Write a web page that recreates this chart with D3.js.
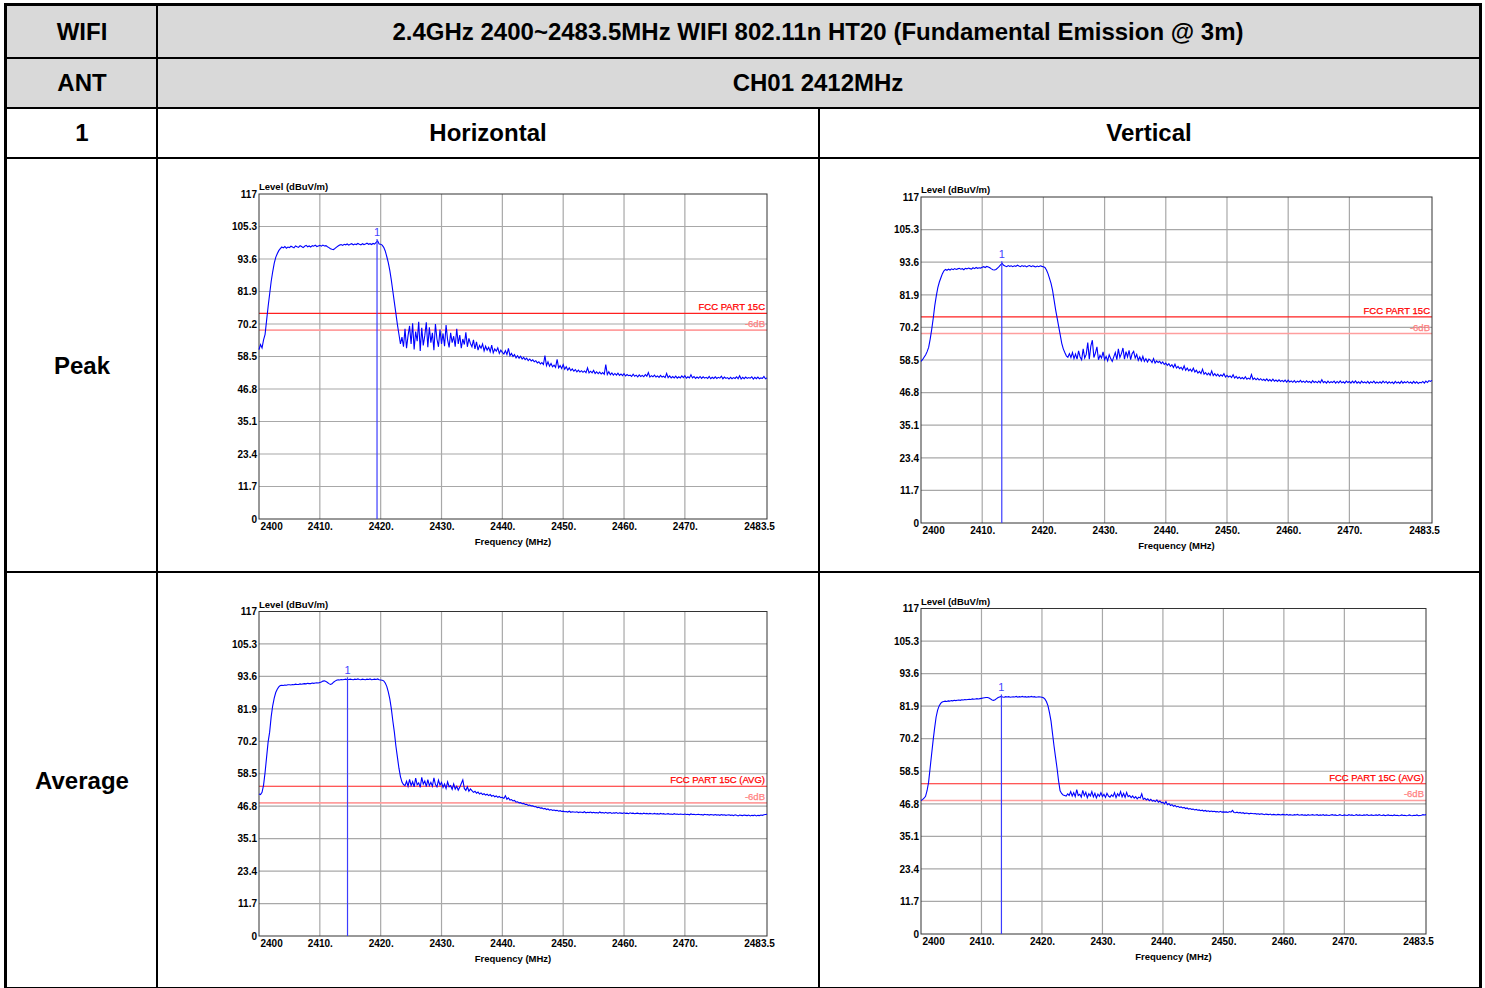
<!DOCTYPE html>
<html><head><meta charset="utf-8">
<script src="https://cdn.jsdelivr.net/npm/d3@7"></script>
<style>body{margin:0;background:#fff;} svg{display:block;}</style>
</head><body>
<svg id="c" width="1485" height="988"></svg>
<script>
// ---------- data ----------
const titleText = "2.4GHz 2400~2483.5MHz WIFI 802.11n HT20 (Fundamental Emission @ 3m)";
const channelText = "CH01 2412MHz";
const polarizations = ["Horizontal", "Vertical"];
const detectors = ["Peak", "Average"];
const sweepStartMHz = 2400, sweepStepMHz = 0.25;
const xTickValues = [2400, 2410, 2420, 2430, 2440, 2450, 2460, 2470, 2483.5];
const xTickLabels = ["2400", "2410.", "2420.", "2430.", "2440.", "2450.", "2460.", "2470.", "2483.5"];
const yTickValues = [0, 11.7, 23.4, 35.1, 46.8, 58.5, 70.2, 81.9, 93.6, 105.3, 117];
const yTickLabels = ["0", "11.7", "23.4", "35.1", "46.8", "58.5", "70.2", "81.9", "93.6", "105.3", "117"];
const peakLimit = 74, avgLimit = 54, marginDb = 6;
const limitLabels = ["FCC PART 15C", "FCC PART 15C (AVG)"];
const markerFreqs = [2419.4, 2413.2, 2414.55, 2413.3];
const markerLevels = [100.1, 93.2, 92.6, 85.4];

// levels in dBuV/m, one value every 0.25 MHz from 2400 to 2483.5 MHz
const hPeak = [
61.0,62.8,61.6,64.5,66.5,71.5,76.5,81.0,85.5,89.0,92.0,94.2,95.5,96.6,97.3,97.9,97.6,98.1,97.5,97.9,
97.7,98.2,97.9,97.6,98.3,98.0,97.8,98.4,98.1,97.7,98.2,98.5,98.0,98.3,97.9,98.4,98.2,98.6,98.1,98.3,
98.5,98.2,98.6,98.3,98.4,98.0,97.7,97.3,97.1,97.0,97.4,97.9,98.3,98.6,98.8,98.5,98.9,98.7,99.0,98.6,
98.9,99.1,98.7,99.0,98.8,99.2,98.9,98.7,99.1,98.8,99.0,99.3,98.9,99.1,98.8,99.2,99.0,99.6,100.1,99.0,
98.9,98.6,97.8,96.5,94.5,92.3,89.5,86.0,82.0,78.0,74.0,70.0,66.5,63.0,65.5,62.0,68.5,61.5,66.0,69.5,
63.0,70.5,61.0,67.5,64.0,71.0,60.5,68.8,62.5,66.0,70.8,61.8,69.0,63.5,67.0,60.8,70.2,64.8,62.0,68.2,
63.0,66.8,62.2,69.8,64.5,61.8,67.0,63.5,65.8,62.0,68.5,63.0,66.2,61.5,64.8,62.8,67.2,62.0,65.0,63.2,
62.0,64.5,61.2,63.8,60.8,62.5,61.5,63.0,60.5,62.2,60.8,61.8,60.2,62.6,59.8,61.2,60.4,61.6,59.6,60.8,
60.0,59.4,60.6,59.2,61.4,58.8,59.6,58.5,59.2,58.0,58.8,57.9,58.6,57.6,58.2,57.4,57.9,57.0,57.6,56.9,
57.3,56.6,57.0,56.2,56.6,55.8,56.3,55.6,58.8,55.2,56.6,55.0,56.0,54.8,55.4,54.6,57.5,54.4,55.2,54.2,
55.6,53.9,54.8,53.6,54.4,53.4,54.0,53.2,53.8,53.0,53.6,52.9,53.4,52.8,53.3,52.7,54.4,52.6,53.2,52.6,
53.5,52.4,53.0,52.3,52.9,52.2,52.7,52.1,55.6,52.0,53.0,51.9,52.6,51.8,52.4,51.8,52.5,51.7,52.2,51.6,
52.3,51.5,52.0,51.6,51.8,51.3,52.1,51.4,51.8,51.2,51.9,51.3,51.7,51.2,52.0,51.4,52.7,51.1,51.6,51.2,
51.8,51.1,51.5,51.0,51.7,51.1,51.4,50.9,52.4,50.9,51.5,50.8,51.3,50.8,51.4,50.7,51.2,50.8,51.5,50.9,
51.6,50.7,51.2,50.8,51.9,50.8,51.3,50.6,51.1,50.7,51.3,50.6,51.2,50.7,51.0,50.6,51.3,50.5,51.0,50.6,
51.2,50.6,51.0,50.7,51.4,50.5,51.1,50.6,50.9,50.4,51.0,50.5,50.9,50.6,51.2,50.5,51.6,50.4,51.0,50.5,
51.1,50.6,50.9,50.7,51.2,50.4,51.0,50.5,51.1,50.5,50.8,50.6,51.3,50.5,50.8];

const vPeak = [
58.0,58.6,59.5,60.3,61.5,63.0,66.0,69.5,73.5,78.0,81.5,84.5,86.5,88.0,89.5,90.5,91.0,90.7,91.1,90.8,
91.2,90.9,91.3,91.0,91.2,91.4,91.1,91.3,90.9,91.4,91.2,91.5,91.3,91.1,91.6,91.3,91.7,91.4,91.6,91.5,
91.8,92.0,91.7,92.1,91.9,91.6,91.2,90.9,90.8,91.0,91.5,92.0,92.6,93.2,92.5,92.2,92.0,92.4,92.1,92.3,
92.0,92.3,92.1,92.5,92.2,92.0,92.4,92.1,92.3,91.9,92.2,92.4,92.0,92.3,92.1,91.9,92.2,92.0,92.3,92.1,
92.0,91.7,90.8,89.5,87.8,86.0,83.5,80.0,76.5,73.5,70.5,67.5,64.5,62.5,61.2,60.0,59.5,60.8,59.4,61.2,
59.0,60.6,58.8,61.8,59.6,58.6,62.5,59.2,60.5,64.8,58.8,63.5,65.6,59.4,61.0,63.2,58.6,60.2,59.2,61.4,
58.6,59.8,58.2,60.4,59.0,58.0,59.6,61.2,58.6,62.5,59.4,60.8,62.8,58.8,61.5,59.6,62.0,58.6,60.8,61.6,
59.2,60.5,58.4,59.6,58.2,59.8,58.0,59.0,57.8,58.8,58.4,57.6,59.0,57.4,58.2,57.6,58.0,57.2,57.8,56.9,
57.4,56.6,57.2,56.2,56.8,55.8,57.0,55.6,56.2,55.4,55.9,55.0,56.4,54.8,55.6,54.6,55.2,54.4,55.6,54.2,
54.8,53.8,54.4,53.6,55.2,53.4,54.0,53.2,53.8,53.0,54.6,52.9,53.6,52.8,53.4,52.6,53.2,52.7,53.6,52.4,
53.0,52.4,52.8,52.2,53.2,52.0,52.6,51.9,52.4,51.8,52.2,51.7,52.5,51.6,52.0,51.6,53.3,51.5,52.0,51.4,
51.9,51.3,51.8,51.2,51.6,51.1,51.7,51.0,51.5,50.9,51.6,50.9,51.3,50.8,51.4,50.8,51.2,50.7,51.3,50.6,
51.3,50.6,51.0,50.5,51.1,50.4,50.9,50.6,51.2,50.5,50.9,50.4,51.0,50.5,50.8,50.3,51.1,50.4,50.8,50.3,
50.9,50.3,51.4,50.4,50.8,50.2,50.9,50.3,50.7,50.4,50.9,50.2,50.8,50.3,51.0,50.3,50.7,50.2,50.9,50.4,
50.8,50.2,50.9,50.3,51.0,50.2,50.7,50.1,50.9,50.3,50.6,50.2,50.8,50.1,50.7,50.3,50.9,50.2,50.6,50.2,
50.7,50.2,50.9,50.3,50.8,50.1,50.7,50.2,50.6,50.0,50.8,50.2,50.6,50.1,50.9,50.2,50.7,50.3,50.8,50.2,
50.6,50.1,50.8,50.2,50.7,50.1,50.5,50.3,50.8,50.2,50.9,50.4,51.1,50.8,51.2];

const hAvg = [
51.2,51.0,51.8,54.4,59.0,64.5,70.0,73.5,79.0,83.0,85.8,87.8,89.0,89.8,90.3,90.4,90.3,90.5,90.4,90.6,
90.6,90.5,90.7,90.6,90.8,90.7,90.7,90.9,90.8,90.9,91.0,90.9,91.1,91.0,91.0,91.2,91.1,91.2,91.3,91.2,
91.4,91.6,91.9,92.0,91.8,91.4,91.0,90.7,90.9,91.5,91.9,92.2,92.4,92.3,92.5,92.4,92.5,92.6,92.4,92.5,
92.6,92.5,92.4,92.6,92.5,92.7,92.5,92.4,92.6,92.5,92.4,92.6,92.5,92.7,92.4,92.5,92.6,92.5,92.7,92.4,
92.3,92.2,92.0,91.2,90.0,88.0,85.5,82.0,77.5,73.5,68.5,64.5,60.5,57.5,55.5,54.6,54.2,55.8,54.0,56.5,
54.2,55.6,53.8,56.9,54.5,55.2,53.6,57.2,54.8,55.9,53.9,56.4,54.2,55.4,54.0,57.0,54.6,53.8,56.2,54.4,
55.4,53.6,54.8,53.2,55.6,53.8,54.2,52.9,54.8,53.0,54.0,52.6,53.6,55.0,56.3,53.2,52.5,53.8,52.2,53.0,
52.4,51.8,52.2,51.5,51.9,51.2,51.6,51.0,51.3,50.8,51.1,50.6,51.0,50.4,50.7,50.2,50.5,50.0,50.3,49.9,
50.0,49.6,50.6,49.3,49.8,49.0,49.2,48.7,48.9,48.3,48.4,48.0,48.1,47.7,47.8,47.4,47.5,47.1,47.2,46.9,
46.9,46.6,46.7,46.3,46.4,46.1,46.2,45.8,46.0,45.6,45.8,45.4,45.6,45.3,45.4,45.2,45.3,45.0,45.2,44.9,
45.0,44.8,44.9,44.7,45.0,44.6,44.8,44.7,44.6,44.8,44.5,44.7,44.6,44.5,44.8,44.4,44.6,44.5,44.7,44.4,
44.6,44.4,44.5,44.3,44.7,44.4,44.5,44.3,44.6,44.3,44.4,44.5,44.2,44.4,44.3,44.5,44.2,44.4,44.3,44.2,
44.4,44.2,44.3,44.1,44.4,44.2,44.3,44.1,44.2,44.3,44.1,44.2,44.0,44.3,44.1,44.2,44.0,44.2,44.1,44.0,
44.2,44.0,44.1,43.9,44.2,44.0,44.1,43.9,44.0,44.1,43.9,44.0,43.8,44.1,43.9,44.0,43.8,44.0,43.9,43.8,
44.0,43.8,43.9,43.7,44.0,43.8,43.9,43.7,43.8,43.9,43.7,43.8,43.6,43.9,43.7,43.8,43.6,43.8,43.7,43.6,
43.8,43.6,43.7,43.5,43.8,43.6,43.7,43.5,43.6,43.7,43.5,43.6,43.4,43.7,43.5,43.3,43.6,43.5,43.4,43.6,
43.5,43.4,43.6,43.3,43.5,43.4,43.6,43.3,43.5,43.4,43.6,43.5,43.7,43.8,43.9];

const vAvg = [
48.0,48.3,48.8,49.5,51.5,54.5,59.5,64.5,69.5,74.0,78.0,80.5,82.0,82.9,83.4,83.6,83.7,83.6,83.8,83.7,
83.9,83.8,84.0,83.9,84.0,84.1,84.0,84.2,84.1,84.3,84.2,84.3,84.4,84.3,84.5,84.4,84.5,84.6,84.5,84.6,
84.7,84.8,84.9,85.0,85.0,84.8,84.5,84.1,84.0,84.2,84.6,85.0,85.2,85.4,85.2,85.1,85.3,85.2,85.3,85.1,
85.2,85.3,85.2,85.4,85.1,85.3,85.2,85.4,85.2,85.3,85.1,85.3,85.2,85.4,85.2,85.3,85.1,85.2,85.3,85.2,
85.1,84.9,84.4,83.5,82.0,79.5,76.5,72.0,67.5,63.5,59.5,55.0,51.5,50.5,50.0,49.8,49.6,50.4,49.8,51.2,
49.6,50.8,49.4,51.9,49.8,50.2,49.2,51.6,49.7,50.9,49.0,50.4,49.6,51.2,49.3,50.6,48.9,50.3,49.5,50.8,
49.4,50.2,49.1,50.6,49.6,49.2,50.0,49.4,50.8,49.0,50.4,49.6,51.2,49.3,50.5,49.1,50.9,49.4,49.8,49.0,
49.6,48.8,49.4,48.6,49.2,48.9,50.4,48.4,48.8,48.2,48.6,47.9,48.4,47.8,48.0,47.6,48.2,47.4,47.8,47.2,
47.3,46.8,47.6,46.5,46.9,46.2,46.5,45.9,46.2,45.7,45.9,45.5,45.7,45.3,45.5,45.1,45.3,44.9,45.1,44.8,
44.9,44.6,44.8,44.5,44.6,44.3,44.5,44.2,44.4,44.1,44.3,44.0,44.2,44.0,44.1,43.9,44.0,43.8,44.1,43.8,
43.9,43.8,43.9,43.7,44.0,43.8,44.4,43.7,43.6,43.8,43.5,43.7,43.4,43.6,43.3,43.5,43.4,43.2,43.4,43.3,
43.2,43.3,43.1,43.2,43.0,43.2,43.1,42.9,43.1,43.0,42.9,43.1,42.8,43.0,42.9,42.8,43.0,42.9,42.8,43.0,
42.9,42.8,43.0,42.7,42.9,42.8,42.7,42.9,42.8,43.0,42.7,42.8,42.9,42.7,42.8,42.6,42.9,42.7,42.8,42.9,
42.7,42.8,42.9,42.6,42.8,42.7,42.9,42.6,42.8,42.7,42.6,42.8,42.9,42.7,42.8,42.6,42.7,42.9,42.7,42.6,
42.8,42.7,42.6,42.9,42.7,42.8,42.6,42.7,42.9,42.6,42.8,42.7,42.6,42.8,42.7,42.9,42.6,42.7,42.8,42.6,
42.7,42.8,42.6,42.9,42.7,42.6,42.8,42.5,42.7,42.8,42.6,42.7,42.5,42.8,42.6,42.7,42.5,42.6,42.8,42.6,
42.7,42.5,42.6,42.8,42.6,42.5,42.7,42.6,42.8,42.5,42.6,42.7,42.9,42.8,42.9];

// ---------- table ----------
const svg = d3.select("#c");
const FONT = "'Liberation Sans', Arial, sans-serif";
const colX = [7, 157, 819, 1479];
const rowY = [6, 58, 108, 158, 572, 987];

svg.append("rect").attr("x", colX[0]).attr("y", rowY[0]).attr("width", colX[3]-colX[0]).attr("height", rowY[2]-rowY[0]).attr("fill", "#d9d9d9");

const cellText = (x, y, t) => svg.append("text").attr("x", x).attr("y", y).attr("text-anchor", "middle")
  .attr("dominant-baseline", "central").attr("font-family", FONT).attr("font-weight", "bold")
  .attr("font-size", 24).attr("fill", "#000").text(t);
const mid = (a, b) => (a + b) / 2;
cellText(mid(colX[0], colX[1]), mid(rowY[0], rowY[1]) - 0.5, "WIFI");
cellText(mid(colX[1], colX[3]), mid(rowY[0], rowY[1]) - 0.5, titleText);
cellText(mid(colX[0], colX[1]), mid(rowY[1], rowY[2]) - 1, "ANT");
cellText(mid(colX[1], colX[3]), mid(rowY[1], rowY[2]) - 1, channelText);
cellText(mid(colX[0], colX[1]), mid(rowY[2], rowY[3]) - 1, "1");
cellText(mid(colX[1], colX[2]), mid(rowY[2], rowY[3]) - 1, polarizations[0]);
cellText(mid(colX[2], colX[3]), mid(rowY[2], rowY[3]) - 1, polarizations[1]);
cellText(mid(colX[0], colX[1]), mid(rowY[3], rowY[4]) + 0.5, detectors[0]);
cellText(mid(colX[0], colX[1]), mid(rowY[4], rowY[5]) + 0.5, detectors[1]);

// ---------- charts ----------
const charts = [
  {data: hPeak, l: 259, r: 767, t: 194, b: 519, limit: peakLimit, label: limitLabels[0], m: 0},
  {data: vPeak, l: 921, r: 1432, t: 197, b: 523, limit: peakLimit, label: limitLabels[0], m: 1},
  {data: hAvg, l: 259, r: 767, t: 611.5, b: 936, limit: avgLimit, label: limitLabels[1], m: 2},
  {data: vAvg, l: 921, r: 1426, t: 608.5, b: 934, limit: avgLimit, label: limitLabels[1], m: 3}
];

const CF = "'Liberation Sans', Arial, sans-serif";
charts.forEach(c => {
  const g = svg.append("g");
  const x = d3.scaleLinear().domain([xTickValues[0], xTickValues[xTickValues.length-1]]).range([c.l, c.r]);
  const y = d3.scaleLinear().domain([0, 117]).range([c.b, c.t]);
  // grid
  g.append("g").selectAll("line").data(xTickValues.slice(1, -1)).join("line")
    .attr("x1", d => x(d)).attr("x2", d => x(d)).attr("y1", c.t).attr("y2", c.b)
    .attr("stroke", "#a8a8a8").attr("stroke-width", 1.2);
  g.append("g").selectAll("line").data(yTickValues.slice(1, -1)).join("line")
    .attr("x1", c.l).attr("x2", c.r).attr("y1", d => y(d)).attr("y2", d => y(d))
    .attr("stroke", "#a8a8a8").attr("stroke-width", 1.2);
  // limit lines
  g.append("line").attr("x1", c.l).attr("x2", c.r).attr("y1", y(c.limit)).attr("y2", y(c.limit))
    .attr("stroke", "#ff2020").attr("stroke-width", 1.2);
  g.append("line").attr("x1", c.l).attr("x2", c.r).attr("y1", y(c.limit - marginDb)).attr("y2", y(c.limit - marginDb))
    .attr("stroke", "#ff9e9e").attr("stroke-width", 1.6);
  g.append("text").attr("x", c.r - 2).attr("y", y(c.limit) - 3).attr("text-anchor", "end")
    .attr("font-family", CF).attr("font-size", 9.5).attr("fill", "#ff0000")
    .attr("stroke", "#ff0000").attr("stroke-width", 0.25).text(c.label);
  g.append("text").attr("x", c.r - 2).attr("y", y(c.limit - marginDb) - 3).attr("text-anchor", "end")
    .attr("font-family", CF).attr("font-size", 9.5).attr("fill", "#ff7f7f")
    .attr("stroke", "#ff7f7f").attr("stroke-width", 0.25).text("-" + marginDb + "dB");
  // border
  g.append("rect").attr("x", c.l).attr("y", c.t).attr("width", c.r - c.l).attr("height", c.b - c.t)
    .attr("fill", "none").attr("stroke", "#333").attr("stroke-width", 1);
  // axes
  const ya = d3.axisLeft(y).tickValues(yTickValues).tickSize(0).tickPadding(2)
    .tickFormat((d, i) => yTickLabels[i]);
  const yg = g.append("g").attr("transform", `translate(${c.l},0)`).call(ya);
  yg.select(".domain").remove();
  yg.selectAll("text").attr("font-family", CF).attr("font-weight", "bold").attr("font-size", 10).attr("fill", "#000");
  const xa = d3.axisBottom(x).tickValues(xTickValues).tickSize(0).tickPadding(4)
    .tickFormat((d, i) => xTickLabels[i]);
  const xg = g.append("g").attr("transform", `translate(0,${c.b})`).call(xa);
  xg.select(".domain").remove();
  xg.selectAll("text").attr("font-family", CF).attr("font-weight", "bold").attr("font-size", 10).attr("fill", "#000")
    .attr("text-anchor", (d, i) => i === 0 ? "start" : "middle")
    .attr("dx", (d, i) => i === 0 ? 1 : (i === xTickValues.length - 1 ? -8 : 0));
  g.append("text").attr("x", c.l).attr("y", c.t - 4).attr("font-family", CF).attr("font-weight", "bold")
    .attr("font-size", 9.5).attr("fill", "#000").text("Level (dBuV/m)");
  g.append("text").attr("x", (c.l + c.r) / 2).attr("y", c.b + 26).attr("text-anchor", "middle")
    .attr("font-family", CF).attr("font-weight", "bold").attr("font-size", 9.5).attr("fill", "#000").text("Frequency (MHz)");
  // trace
  const line = d3.line().x((d, i) => x(sweepStartMHz + i * sweepStepMHz)).y(d => y(d));
  g.append("path").datum(c.data).attr("d", line).attr("fill", "none").attr("stroke", "#0000ff").attr("stroke-width", 1.1);
  // marker
  const mf = markerFreqs[c.m], ml = markerLevels[c.m];
  g.append("line").attr("x1", x(mf)).attr("x2", x(mf)).attr("y1", y(ml) - 2).attr("y2", c.b)
    .attr("stroke", "#3c3cff").attr("stroke-width", 1.2);
  g.append("text").attr("x", x(mf)).attr("y", y(ml) - 5).attr("text-anchor", "middle")
    .attr("font-family", CF).attr("font-size", 11).attr("fill", "#4444ff").text("1");
});

// ---------- table lines ----------
const L = (x1, y1, x2, y2, w) => svg.append("line").attr("x1", x1).attr("y1", y1).attr("x2", x2).attr("y2", y2)
  .attr("stroke", "#000").attr("stroke-width", w);
[rowY[1], rowY[2], rowY[3], rowY[4]].forEach(yy => L(colX[0], yy, colX[3], yy, 2));
L(colX[1], rowY[0], colX[1], rowY[5], 2);
L(colX[2], rowY[2], colX[2], rowY[5], 2);
svg.append("rect").attr("x", colX[0]-1.5).attr("y", rowY[0]-1.5).attr("width", colX[3]-colX[0]+3).attr("height", rowY[5]-rowY[0]+3)
  .attr("fill", "none").attr("stroke", "#000").attr("stroke-width", 3);
</script>
</body></html>
